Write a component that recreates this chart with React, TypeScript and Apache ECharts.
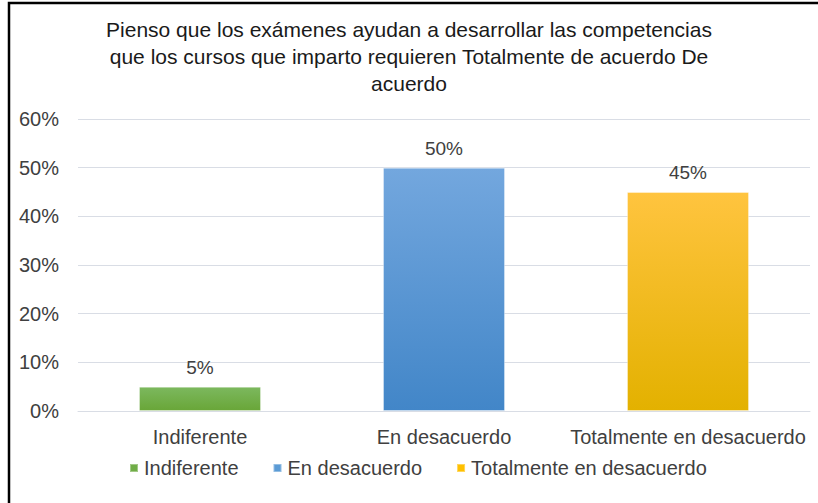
import React, { useEffect, useRef } from "react";
import * as echarts from "echarts";

const titleText =
  "Pienso que los exámenes ayudan a desarrollar las competencias\nque los cursos que imparto requieren Totalmente de acuerdo De\nacuerdo";
const categories = ["Indiferente", "En desacuerdo", "Totalmente en desacuerdo"];
const values = [0.05, 0.5, 0.45];
const yTicks = [0, 0.1, 0.2, 0.3, 0.4, 0.5, 0.6];
const gradients = [
  ["#7cb85e", "#69a638"],
  ["#73a7de", "#4286c8"],
  ["#ffc43f", "#e3b100"],
];
const legendColors = ["#70ad47", "#5b9bd5", "#ffc000"];

const FONT = "Liberation Sans, Arial, Helvetica, sans-serif";

export default function App() {
  const ref = useRef<HTMLDivElement>(null);
  useEffect(() => {
    if (!ref.current) return;
    const chart = echarts.init(ref.current, null, { renderer: "svg" });
    const series = categories.map((name, i) => ({
      name,
      type: "bar",
      stack: "all",
      barWidth: "50%",
      data: categories.map((_, j) => (j === i ? values[i] : "-")),
      itemStyle: {
        color: new echarts.graphic.LinearGradient(0, 0, 0, 1, [
          { offset: 0, color: gradients[i][0] },
          { offset: 1, color: gradients[i][1] },
        ]),
        borderColor: "rgba(255,255,255,0.35)",
        borderWidth: 1,
      },
      label: {
        show: true,
        position: "top",
        distance: 10,
        formatter: (p: any) => Math.round(p.value * 100) + "%",
        fontFamily: FONT,
        fontSize: 19,
        color: "#404040",
      },
    }));
    chart.setOption({
      animation: false,
      backgroundColor: "#ffffff",
      title: {
        text: titleText,
        left: "center",
        top: 11,
        textStyle: {
          fontFamily: FONT,
          fontSize: 21,
          fontWeight: "normal",
          color: "#1a1a1a",
          lineHeight: 27,
        },
      },
      legend: {
        bottom: 20,
        left: 124,
        itemWidth: 8,
        itemHeight: 8,
        itemGap: 34,
        icon: "rect",
        data: categories.map((c, i) => ({ name: c, itemStyle: { color: legendColors[i] } })),
        textStyle: { fontFamily: FONT, fontSize: 20, color: "#404040", padding: [0, 0, 0, 1] },
      },
      grid: { left: 78, right: 8, top: 119, bottom: 92, containLabel: false },
      xAxis: {
        type: "category",
        data: categories,
        axisLine: { lineStyle: { color: "#d9dde5" } },
        axisTick: { show: false },
        axisLabel: { fontFamily: FONT, fontSize: 20, color: "#404040", margin: 16, interval: 0 },
      },
      yAxis: {
        type: "value",
        min: yTicks[0],
        max: yTicks[yTicks.length - 1],
        interval: 0.1,
        axisLine: { show: false },
        axisTick: { show: false },
        splitLine: { lineStyle: { color: "#d9dde5", width: 1 } },
        axisLabel: {
          fontFamily: FONT,
          fontSize: 20,
          color: "#404040",
          margin: 19,
          formatter: (v: number) => Math.round(v * 100) + "%",
        },
      },
      graphic: [
        {
          type: "rect",
          shape: { x: 9, y: 3, width: 830, height: 520 },
          style: { fill: "none", stroke: "#000000", lineWidth: 2.5 },
          z: 100,
        },
      ],
      series,
    });
    return () => chart.dispose();
  }, []);
  return (
    <div
      ref={ref}
      style={{ position: "absolute", left: 0, top: 0, width: 818, height: 503 }}
    />
  );
}
